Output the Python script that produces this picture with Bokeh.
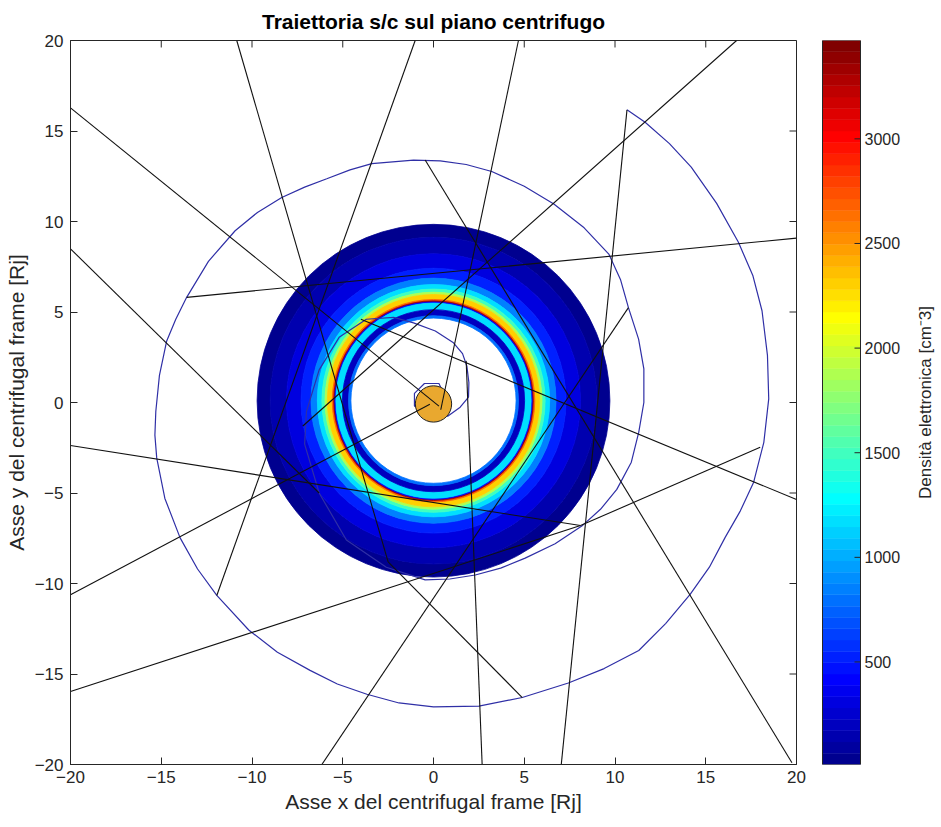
import numpy as np
from bokeh.plotting import figure
from bokeh.models import Range1d, FixedTicker, ColumnDataSource
from bokeh.layouts import row
from bokeh.transform import linear_cmap
from bokeh.embed import file_html
from bokeh.resources import INLINE
from bokeh.core.properties import value

# ---------------- data ----------------
title_text = "Traiettoria s/c sul piano centrifugo"
xlabel_text = "Asse x del centrifugal frame [Rj]"
ylabel_text = "Asse y del centrifugal frame [Rj]"
cbar_label = "Densità elettronica [cm⁻3]"

axis_ticks = [-20, -15, -10, -5, 0, 5, 10, 15, 20]
axis_min, axis_max = -20, 20
cbar_ticks = [500, 1000, 1500, 2000, 2500, 3000]
dens_min, dens_max = 10, 3470

# plasma torus: rings (inner radius, outer radius [Rj]) and electron density [cm^-3]
torus_center_x = 0.0
torus_center_y = 0.1
ring_inner = [9.00, 8.10, 7.30, 6.75, 6.40, 6.15, 5.98, 5.85, 5.58, 5.50, 5.44, 5.38, 5.02, 4.68, 4.55]
ring_outer = [9.72, 9.00, 8.10, 7.30, 6.75, 6.40, 6.15, 5.98, 5.85, 5.58, 5.50, 5.44, 5.38, 5.02, 4.68]
ring_density = [40, 120, 300, 550, 850, 1150, 1500, 1900, 2300, 2700, 3350, 400, 1150, 220, 800]

# Jupiter
jupiter_x = [0.0]
jupiter_y = [-0.08]
jupiter_r = [1.0]

# spacecraft trajectory (blue spiral)
traj_x = [10.66, 11.66, 13.0, 14.2, 15.6, 16.8, 17.6, 18.1, 18.4, 18.47, 18.2, 17.64, 16.9, 16.07, 15.2,
          14.14, 12.8, 11.31, 9.4, 7.43, 4.89, 2.5, 0.0, -1.9, -3.67, -5.3, -6.8, -8.6, -10.18,
          -11.94, -13.0, -13.96, -14.8, -15.25, -15.35, -15.3, -15.1, -14.7, -14.2, -13.6, -12.4, -10.93,
          -9.7, -8.36, -7.1, -5.88, -4.6, -3.4, -1.1, 0.37, 1.8, 3.21, 5.0, 6.63, 8.3, 9.66, 10.3, 10.74,
          11.3, 11.59, 11.59, 11.31, 10.9, 10.1, 9.2, 8.17, 6.7, 5.05, 3.7, 2.3, 0.9, -0.46, -2.6, -4.8,
          -6.3, -7.1, -7.0, -6.3, -5.2, -3.7, -2.2, -1.1, 0.1, 1.1, 1.6, 1.84, 1.95, 1.93,
          1.47, 0.8, -0.3, -1.05, -1.05, -0.5, 0.3, 0.6]
traj_y = [16.17, 15.48, 14.3, 13.0, 11.0, 8.85, 7.0, 5.07, 2.6, 0.2, -2.2, -4.4, -6.0, -7.45, -9.1,
          -10.6, -12.2, -13.7, -14.7, -15.5, -16.3, -16.77, -16.82, -16.6, -16.12, -15.55, -14.8, -13.8, -12.57,
          -10.66, -9.2, -7.48, -5.3, -3.06, -1.8, -0.5, 1.5, 3.4, 4.6, 5.81, 7.8, 9.49,
          10.5, 11.33, 11.9, 12.36, 12.85, 13.2, 13.39, 13.35, 13.15, 12.76, 11.95, 10.97, 9.65, 8.2, 6.8, 5.24,
          3.5, 1.86, 0.0, -1.64, -3.3, -4.8, -5.9, -6.83, -7.8, -8.6, -9.15, -9.53, -9.75, -9.8, -9.1, -7.6,
          -5.0, -2.3, -0.5, 1.8, 3.6, 4.6, 4.7, 4.4, 3.95, 3.3, 2.7, 2.0, 1.1, 0.3,
          -0.26, -0.75, -0.75, -0.2, 0.5, 1.05, 1.05, 0.4]

# straight black trajectory segments
seg_x0 = [-20.0, -10.84, -2.5, -1.01, 4.68, 16.7, -20.0, -20.0, 8.1, -6.15, 20.0, 20.0, 2.68, 7.04, -20.0, -20.0, -0.46]
seg_y0 = [16.28, 20.0, -8.8, 20.0, 20.0, 20.0, 8.49, -2.38, -6.8, -20.0, -5.36, 9.08, -20.0, -20.0, -10.62, -15.97, 13.4]
seg_x1 = [0.3, -2.5, 4.89, -11.94, 0.4, -7.2, -6.3, 8.1, 18.0, 10.74, -4.0, -13.6, 1.8, 10.66, -0.2, 8.1, 19.75]
seg_y1 = [-0.2, -8.8, -16.3, -10.66, -0.4, -1.3, -5.0, -6.8, -2.47, 5.24, 4.6, 5.81, 2.3, 16.17, -0.1, -6.8, -19.9]


# ---------------- MATLAB "jet" colormap ----------------
def jet(m):
    n = int(np.ceil(m / 4))
    u = np.concatenate([np.arange(1, n + 1) / n, np.ones(n - 1), np.arange(n, 0, -1) / n])
    g = int(np.ceil(n / 2)) - (1 if m % 4 == 1 else 0) + np.arange(1, len(u) + 1)
    r = g + n
    b = g - n
    J = np.zeros((m, 3))
    for chan, idx in ((0, r), (1, g), (2, b)):
        ok = (idx >= 1) & (idx <= m)
        J[idx[ok] - 1, chan] = u[ok]
    return ["#%02x%02x%02x" % tuple(int(round(c * 255)) for c in rowc) for rowc in J]


JET = jet(64)
FONT = "Liberation Sans"
AX_COLOR = "#262626"

# ---------------- main plot ----------------
H = 820
MAIN_W = 806
BL, BR, BT, BB = 70, 10, 40, 56
p = figure(width=MAIN_W, height=H, x_range=Range1d(axis_min, axis_max), y_range=Range1d(axis_min, axis_max),
           output_backend="svg", toolbar_location=None,
           min_border_left=BL, min_border_right=BR, min_border_top=BT, min_border_bottom=BB,
           background_fill_color="white", border_fill_color="white")
p.outline_line_color = AX_COLOR
p.grid.visible = False

p.title.text = title_text
p.title.align = "center"
p.title.text_font = FONT
p.title.text_font_size = "21px"
p.title.text_font_style = "bold"
p.title.text_color = "black"
p.title.standoff = 15

for ax in (p.xaxis[0], p.yaxis[0]):
    ax.ticker = FixedTicker(ticks=axis_ticks)
    ax.major_tick_in = 7
    ax.major_tick_out = 0
    ax.minor_tick_in = 0
    ax.minor_tick_out = 0
    ax.axis_line_color = AX_COLOR
    ax.major_tick_line_color = AX_COLOR
    ax.major_label_text_font = FONT
    ax.major_label_text_font_size = "17px"
    ax.major_label_text_color = AX_COLOR
    ax.axis_label_text_font = FONT
    ax.axis_label_text_font_size = "21px"
    ax.axis_label_text_font_style = "normal"
    ax.axis_label_text_color = AX_COLOR
    ax.axis_label_standoff = 4
p.xaxis.axis_label = xlabel_text
p.yaxis.axis_label = ylabel_text
p.xaxis.major_label_standoff = 6
p.yaxis.major_label_standoff = 7

cmap = linear_cmap("dens", JET, dens_min, dens_max)
torus_src = ColumnDataSource(dict(
    x=[torus_center_x] * len(ring_inner), y=[torus_center_y] * len(ring_inner),
    ri=ring_inner, ro=ring_outer, dens=ring_density))
p.annulus(x="x", y="y", inner_radius="ri", outer_radius="ro", source=torus_src,
          fill_color=cmap, line_color=cmap, line_width=0.8)

p.line(traj_x, traj_y, line_color="#2f2fa6", line_width=1.2)

p.circle(x=jupiter_x, y=jupiter_y, radius=jupiter_r, fill_color="#e9a82f",
         line_color="#222222", line_width=1)

p.segment(x0=seg_x0, y0=seg_y0, x1=seg_x1, y1=seg_y1, line_color="#111111", line_width=1.1)

# inward tick marks on the top and right edges of the box (MATLAB style)
tick_len = 7 * (axis_max - axis_min) / (MAIN_W - BL - BR)
p.segment(x0=axis_ticks, x1=axis_ticks, y0=[axis_max] * len(axis_ticks),
          y1=[axis_max - tick_len] * len(axis_ticks), line_color=AX_COLOR, line_width=1)
p.segment(x0=[axis_max] * len(axis_ticks), x1=[axis_max - tick_len] * len(axis_ticks),
          y0=axis_ticks, y1=axis_ticks, line_color=AX_COLOR, line_width=1)

# ---------------- colorbar ----------------
CB_W = 129
cb = figure(width=CB_W, height=H, x_range=Range1d(0, CB_W), y_range=Range1d(dens_min, dens_max),
            x_axis_type=None, y_axis_type=None, output_backend="svg", toolbar_location=None,
            min_border_left=0, min_border_right=0, min_border_top=BT, min_border_bottom=BB,
            outline_line_color=None, background_fill_color="white", border_fill_color="white")
cb.grid.visible = False
step = (dens_max - dens_min) / len(JET)
band_bottom = [dens_min + i * step for i in range(len(JET))]
band_top = [b + step for b in band_bottom]
BAR_L, BAR_R = 16, 54
cb.quad(left=BAR_L, right=BAR_R, bottom=band_bottom, top=band_top, fill_color=JET, line_color=JET, line_width=0.5)
cb.quad(left=BAR_L, right=BAR_R, bottom=dens_min, top=dens_max, fill_color=None, line_color=AX_COLOR, line_width=1)
cb.segment(x0=BAR_R - 6, x1=BAR_R, y0=cbar_ticks, y1=cbar_ticks, line_color=AX_COLOR, line_width=1)
cb.text(x=BAR_R + 4, y=cbar_ticks, text=[str(t) for t in cbar_ticks], text_baseline="middle", text_align="left",
        text_font=value(FONT), text_font_size="16px", text_color=AX_COLOR)
cb.text(x=[119], y=[(dens_min + dens_max) / 2], text=[cbar_label], angle=np.pi / 2,
        text_align="center", text_baseline="middle", text_font=value(FONT), text_font_size="17px",
        text_color=AX_COLOR)

layout = row(p, cb)
open("out.html", "w").write(file_html(layout, INLINE))
